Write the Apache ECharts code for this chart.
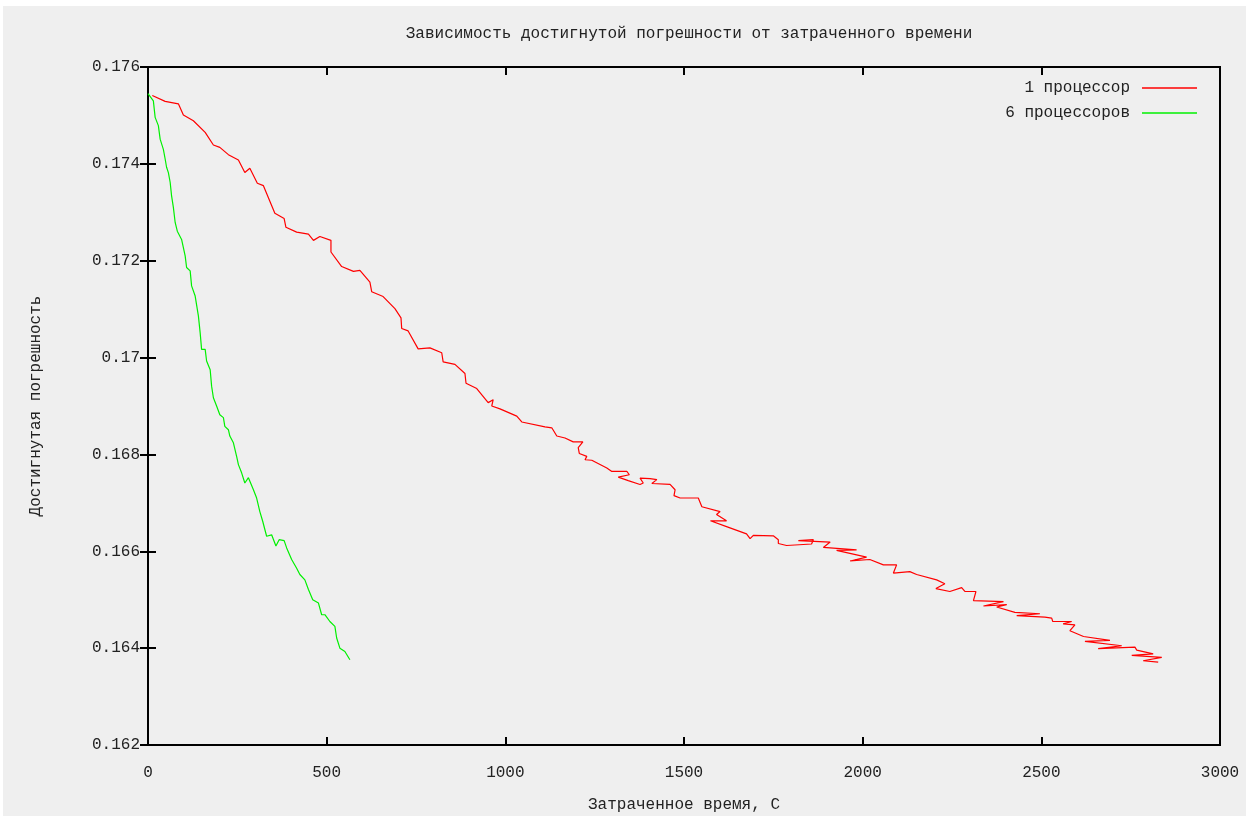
<!DOCTYPE html>
<html>
<head>
<meta charset="utf-8">
<script src="https://cdn.jsdelivr.net/npm/echarts@6/dist/echarts.min.js"></script>
<style>
  html, body { margin: 0; padding: 0; background: #fff; }
  #bg { position: absolute; left: 3px; top: 6px; width: 1243px; height: 810px; background: #efefef; }
  #main { position: absolute; left: 0; top: 0; width: 1250px; height: 819px; }
</style>
</head>
<body>
<div id="bg"></div>
<div id="main"></div>
<script>
// данные
var titleText = 'Зависимость достигнутой погрешности от затраченного времени';
var xName = 'Затраченное время, С';
var yName = 'Достигнутая погрешность';
var seriesNames = ['1 процессор', '6 процессоров'];

var xTicks = [0, 500, 1000, 1500, 2000, 2500, 3000];
var yTicks = [0.162, 0.164, 0.166, 0.168, 0.17, 0.172, 0.174, 0.176];

// 1 процессор
var redX = [12, 48, 85, 99, 127, 160, 183, 201, 225, 253, 271, 285, 306, 323, 355, 381, 386, 416, 449,
  463, 481, 512, 512, 542, 575, 593, 621, 626, 658, 691, 708, 710, 728, 756, 789, 822, 826, 859, 887,
  890, 920, 952, 966, 962, 985, 1032, 1046, 1111, 1130, 1144, 1167, 1190, 1217, 1204, 1207, 1228, 1223, 1242, 1284,
  1298, 1340, 1347, 1316, 1344, 1377, 1386, 1377, 1405, 1424, 1410, 1461, 1475, 1472, 1489, 1540, 1550, 1601, 1591, 1619,
  1574, 1619, 1675, 1685, 1694, 1750, 1764, 1764, 1787, 1857, 1862, 1820, 1909, 1890, 1983, 1927, 2011, 1965, 2020, 2058,
  2095, 2086, 2132, 2151, 2207, 2230, 2205, 2244, 2277, 2286, 2317, 2310, 2394, 2338, 2403, 2375, 2426, 2496, 2431, 2510,
  2529, 2532, 2585, 2561, 2594, 2580, 2618, 2692, 2622, 2725, 2659, 2762, 2767, 2813, 2753, 2837, 2785, 2827];
var redY = [0.17541, 0.17529, 0.17524, 0.17501, 0.17489, 0.17465, 0.17439, 0.17434, 0.17419, 0.17408, 0.17382, 0.17391, 0.17360, 0.17355, 0.17298, 0.17287, 0.17269, 0.17259, 0.17255,
  0.17242, 0.17250, 0.17242, 0.17218, 0.17188, 0.17178, 0.17180, 0.17156, 0.17136, 0.17126, 0.17101, 0.17082, 0.17060, 0.17055, 0.17018, 0.17020, 0.17010, 0.16991, 0.16986, 0.16967,
  0.16947, 0.16936, 0.16907, 0.16913, 0.16900, 0.16894, 0.16879, 0.16867, 0.16857, 0.16855, 0.16838, 0.16834, 0.16826, 0.16826, 0.16814, 0.16802, 0.16796, 0.16789, 0.16788, 0.16772,
  0.16765, 0.16765, 0.16758, 0.16753, 0.16746, 0.16738, 0.16741, 0.16751, 0.16750, 0.16748, 0.16740, 0.16738, 0.16727, 0.16715, 0.16710, 0.16710, 0.16692, 0.16682, 0.16676, 0.16663,
  0.16663, 0.16651, 0.16636, 0.16626, 0.16633, 0.16632, 0.16624, 0.16616, 0.16612, 0.16615, 0.16624, 0.16622, 0.16619, 0.16608, 0.16603, 0.16602, 0.16588, 0.16580, 0.16583, 0.16572,
  0.16572, 0.16555, 0.16558, 0.16552, 0.16541, 0.16533, 0.16523, 0.16517, 0.16525, 0.16517, 0.16517, 0.16498, 0.16496, 0.16487, 0.16490, 0.16485, 0.16474, 0.16471, 0.16467, 0.16464,
  0.16462, 0.16455, 0.16455, 0.16450, 0.16448, 0.16436, 0.16424, 0.16416, 0.16414, 0.16405, 0.16399, 0.16402, 0.16396, 0.16388, 0.16385, 0.16381, 0.16374, 0.16371];

// 6 процессоров
var greenX = [0, 15, 20, 29, 34, 43, 48, 52, 57, 62, 66, 71, 76, 82, 94, 99, 104, 108, 118, 122,
  132, 141, 146, 150, 160, 164, 174, 178, 183, 192, 201, 211, 215, 225, 229, 239, 248, 253, 262, 271,
  281, 295, 304, 313, 321, 327, 332, 346, 358, 367, 381, 388, 402, 416, 425, 439, 449, 461, 477, 486,
  495, 509, 523, 528, 537, 551, 565];
var greenY = [0.17545, 0.17530, 0.17496, 0.17479, 0.17451, 0.17430, 0.17410, 0.17393, 0.17382, 0.17362, 0.17334, 0.17310, 0.17279, 0.17261, 0.17244, 0.17248, 0.17210, 0.17186, 0.17179, 0.17148,
  0.17127, 0.17086, 0.17051, 0.17017, 0.17017, 0.16993, 0.16975, 0.16941, 0.16917, 0.16900, 0.16882, 0.16876, 0.16858, 0.16851, 0.16838, 0.16824, 0.16796, 0.16779, 0.16762, 0.16741,
  0.16752, 0.16727, 0.16710, 0.16682, 0.16662, 0.16645, 0.16631, 0.16634, 0.16611, 0.16624, 0.16622, 0.16607, 0.16583, 0.16565, 0.16552, 0.16541, 0.16521, 0.16500, 0.16493, 0.16469,
  0.16469, 0.16455, 0.16445, 0.16421, 0.16400, 0.16393, 0.16376];

function zip(xs, ys) {
    var out = [];
    for (var i = 0; i < xs.length; i++) {
        out.push([xs[i], ys[i]]);
    }
    return out;
}

var font = 'Liberation Mono';
var txt = { fontFamily: font, fontSize: 16, color: '#222' };

function yFmt(v) {
    return parseFloat(v.toFixed(3)).toString();
}
function xFmt(v) {
    return String(Math.round(v));
}

var tick = { show: true, inside: true, length: 8, lineStyle: { color: '#000', width: 2 } };

var xBase = { type: 'value', min: xTicks[0], max: xTicks[xTicks.length - 1], interval: xTicks[1] - xTicks[0] };
var yBase = { type: 'value', min: yTicks[0], max: yTicks[yTicks.length - 1], interval: 0.002 };

var myChart = echarts.init(document.getElementById('main'));
var option = {
    animation: false,
    backgroundColor: 'transparent',
    title: {
        text: titleText,
        left: 684,
        textAlign: 'center',
        top: 21,
        textStyle: { fontFamily: font, fontSize: 16, fontWeight: 'normal', color: '#222' }
    },
    legend: [
        {
            data: [seriesNames[0]],
            right: 48, top: 75, align: 'right',
            icon: 'rect', itemWidth: 55, itemHeight: 1.5,
            textStyle: { fontFamily: font, fontSize: 16, color: '#222', padding: [0, 7, 0, 0] }
        },
        {
            data: [seriesNames[1]],
            right: 48, top: 100, align: 'right',
            icon: 'rect', itemWidth: 55, itemHeight: 1.5,
            textStyle: { fontFamily: font, fontSize: 16, color: '#222', padding: [0, 7, 0, 0] }
        }
    ],
    grid: {
        left: 148, right: 30, top: 67, bottom: 74,
        show: true, borderColor: '#000', borderWidth: 2, backgroundColor: 'transparent'
    },
    xAxis: [
        Object.assign({}, xBase, {
            position: 'bottom',
            name: xName, nameLocation: 'middle', nameGap: 52,
            nameTextStyle: txt,
            axisLine: { show: false },
            axisTick: tick,
            splitLine: { show: false },
            axisLabel: Object.assign({ margin: 20, formatter: xFmt }, txt)
        }),
        Object.assign({}, xBase, {
            position: 'top',
            axisLine: { show: false },
            axisTick: tick,
            splitLine: { show: false },
            axisLabel: { show: false }
        })
    ],
    yAxis: [
        Object.assign({}, yBase, {
            position: 'left',
            name: yName, nameLocation: 'middle', nameGap: 104,
            nameTextStyle: txt,
            axisLine: { show: false },
            axisTick: tick,
            splitLine: { show: false },
            axisLabel: Object.assign({ margin: 8, formatter: yFmt }, txt)
        }),
        Object.assign({}, yBase, {
            position: 'right',
            axisLine: { show: false },
            axisTick: tick,
            splitLine: { show: false },
            axisLabel: { show: false }
        })
    ],
    series: [
        {
            name: seriesNames[0],
            type: 'line',
            data: zip(redX, redY),
            showSymbol: false,
            symbol: 'none',
            itemStyle: { color: '#ff0000' },
            lineStyle: { color: '#ff0000', width: 1.2 }
        },
        {
            name: seriesNames[1],
            type: 'line',
            data: zip(greenX, greenY),
            showSymbol: false,
            symbol: 'none',
            itemStyle: { color: '#00f000' },
            lineStyle: { color: '#00f000', width: 1.2 }
        }
    ]
};
myChart.setOption(option);
</script>
</body>
</html>
